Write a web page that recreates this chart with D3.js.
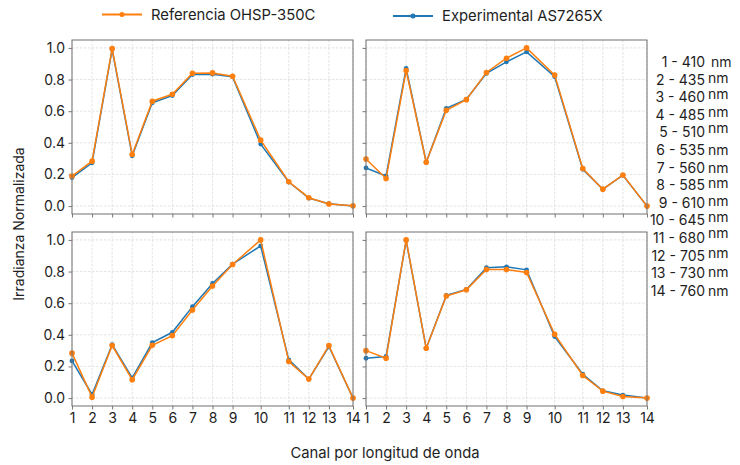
<!DOCTYPE html>
<html><head><meta charset="utf-8">
<script src="https://cdn.jsdelivr.net/npm/d3@7"></script>
<style>
html,body{margin:0;padding:0;background:#fff;}
svg{display:block;font-family:Inter, "Noto Sans", sans-serif;}
</style></head>
<body><svg id="chart" width="740" height="465"></svg>
<script>
// ---- data ----
const channels = [1,2,3,4,5,6,7,8,9,10,11,12,13,14];
const wavelengths = [410,435,460,485,510,535,560,585,610,645,680,705,730,760];
const yTicks = [0.0,0.2,0.4,0.6,0.8,1.0];
const seriesNames = ["Referencia OHSP-350C","Experimental AS7265X"];

// top-left
const refTL = [0.19,0.284,0.996,0.326,0.663,0.707,0.84,0.842,0.821,0.417,0.154,0.053,0.013,0.002];
const expTL = [0.18,0.274,0.99,0.318,0.653,0.699,0.832,0.834,0.817,0.392,0.152,0.05,0.015,0.0];
// top-right
const refTR = [0.298,0.174,0.857,0.277,0.606,0.673,0.845,0.935,1.0,0.828,0.237,0.107,0.197,0.0];
const expTR = [0.241,0.191,0.87,0.277,0.618,0.675,0.839,0.912,0.975,0.818,0.233,0.107,0.195,0.0];
// bottom-left
const refBL = [0.284,0.006,0.332,0.116,0.334,0.395,0.557,0.708,0.845,1.0,0.231,0.12,0.332,0.0];
const expBL = [0.235,0.023,0.338,0.128,0.351,0.416,0.578,0.725,0.847,0.962,0.242,0.12,0.326,0.0];
// bottom-right
const refBR = [0.30,0.252,1.0,0.315,0.645,0.685,0.813,0.813,0.794,0.403,0.143,0.044,0.01,0.0];
const expBR = [0.252,0.263,0.996,0.315,0.649,0.687,0.824,0.83,0.811,0.389,0.151,0.046,0.019,0.0];

// ---- layout ----
const colors = {ref:"#ff7f0e", exp:"#1f77b4"};
const panels = [
  {x0:72,  x1:353, y0:40,  y1:214, ref:refTL, exp:expTL, xl:false, yl:true},
  {x0:366, x1:647, y0:40,  y1:214, ref:refTR, exp:expTR, xl:false, yl:false},
  {x0:72,  x1:353, y0:232, y1:406, ref:refBL, exp:expBL, xl:true,  yl:true},
  {x0:366, x1:647, y0:232, y1:406, ref:refBR, exp:expBR, xl:true,  yl:false}
];

const svg = d3.select("#chart");
const FS = 14;
const TXT = "#1e1e1e";

panels.forEach((p,i)=>{
  const x = d3.scaleLinear().domain([410,760]).range([p.x0,p.x1]);
  const y = d3.scaleLinear().domain([-0.05,1.05]).range([p.y1,p.y0]);
  const g = svg.append("g");
  // grid
  g.selectAll(".gx").data(wavelengths).join("line")
    .attr("x1",d=>x(d)).attr("x2",d=>x(d)).attr("y1",p.y0).attr("y2",p.y1)
    .attr("stroke","#dcdcdc").attr("stroke-width",0.8).attr("stroke-dasharray","2.5,1.5");
  g.selectAll(".gy").data(yTicks).join("line")
    .attr("x1",p.x0).attr("x2",p.x1).attr("y1",d=>y(d)).attr("y2",d=>y(d))
    .attr("stroke","#dcdcdc").attr("stroke-width",0.8).attr("stroke-dasharray","2.5,1.5");

  // axes
  const xAxis = d3.axisBottom(x).tickValues(wavelengths).tickSize(3.5).tickPadding(3.5)
    .tickFormat((d,k)=> p.xl ? channels[k] : "");
  const gx = g.append("g").attr("transform",`translate(0,${p.y1})`).call(xAxis);
  const yAxis = d3.axisLeft(y).tickValues(yTicks).tickSize(3.5).tickPadding(3.5)
    .tickFormat(d=> p.yl ? d3.format(".1f")(d) : "");
  const gy = g.append("g").attr("transform",`translate(${p.x0},0)`).call(yAxis);
  [gx,gy].forEach(a=>{
    a.select(".domain").remove();
    a.selectAll(".tick line").attr("stroke","#555").attr("stroke-width",0.8);
    a.selectAll("text").attr("font-family","Inter, sans-serif").attr("font-size",FS).attr("fill",TXT);
  });

  // lines
  const line = d3.line().x((d,k)=>x(wavelengths[k])).y(d=>y(d));
  [["exp",p.exp],["ref",p.ref]].forEach(([key,vals])=>{
    g.append("path").datum(vals).attr("d",line).attr("fill","none")
      .attr("stroke",colors[key]).attr("stroke-width",1.5);
    g.selectAll(".m"+key).data(vals).join("circle")
      .attr("cx",(d,k)=>x(wavelengths[k])).attr("cy",d=>y(d))
      .attr("r", key==="ref"?2.8:2.4).attr("fill",colors[key]);
  });

  // frame
  g.append("rect").attr("x",p.x0).attr("y",p.y0).attr("width",p.x1-p.x0).attr("height",p.y1-p.y0)
    .attr("fill","none").attr("stroke","#707070").attr("stroke-width",1);
});

// legend
const legend = [
  {name:seriesNames[0], c:colors.ref, lx:102, ly:14.5},
  {name:seriesNames[1], c:colors.exp, lx:393, ly:16}
];
legend.forEach(l=>{
  svg.append("line").attr("x1",l.lx).attr("x2",l.lx+40).attr("y1",l.ly).attr("y2",l.ly)
    .attr("stroke",l.c).attr("stroke-width",1.8);
  svg.append("circle").attr("cx",l.lx+20).attr("cy",l.ly).attr("r",2.5).attr("fill",l.c);
  svg.append("text").attr("x",l.lx+49).attr("y",l.ly).attr("dy","0.35em")
    .attr("font-size",14.8).attr("fill",TXT).text(l.name);
});

// channel list on right
const nmOffset = [0,-1.5,-3,-3,-4,0,0,-2,-2,-3,-5,-3,-1,0];
channels.forEach((c,k)=>{
  const yy = 62 + k*17.6;
  svg.append("text").attr("x",705).attr("y",yy).attr("dy","0.35em").attr("text-anchor","end")
    .attr("font-size",FS).attr("fill",TXT).text(`${c} - ${wavelengths[k]}`);
  svg.append("text").attr("x",k===0?711:708).attr("y",yy+nmOffset[k]).attr("dy","0.35em")
    .attr("font-size",FS).attr("fill",TXT).text("nm");
});

// axis titles
svg.append("text").attr("transform","translate(19,224) rotate(-90)").attr("text-anchor","middle")
  .attr("dy","0.35em").attr("font-size",FS).attr("fill",TXT).text("Irradianza Normalizada");
svg.append("text").attr("x",385).attr("y",453).attr("text-anchor","middle")
  .attr("dy","0.35em").attr("font-size",14.8).attr("fill",TXT).text("Canal por longitud de onda");
</script></body></html>
